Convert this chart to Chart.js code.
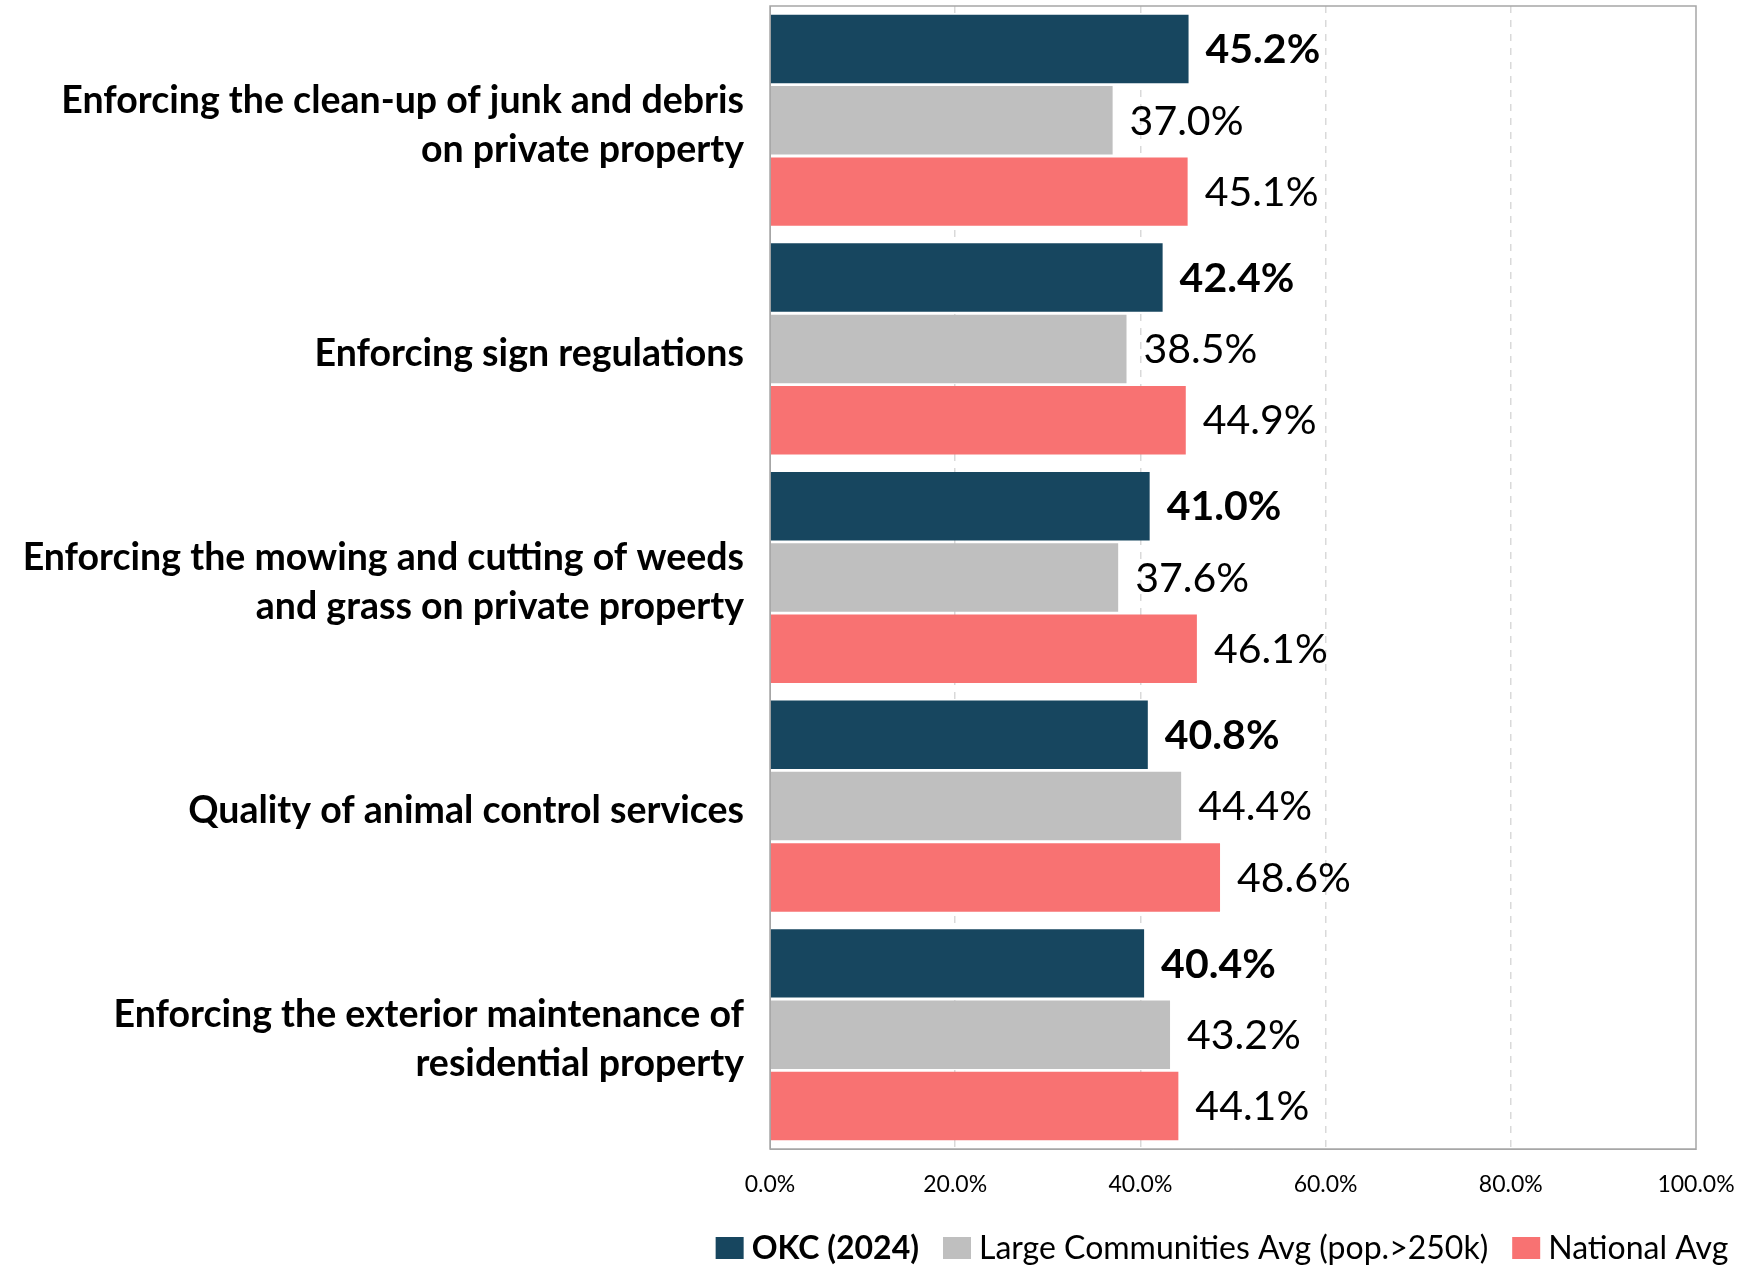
<!DOCTYPE html>
<html>
<head>
<meta charset="utf-8">
<script src="https://cdn.jsdelivr.net/npm/chart.js@4"></script>
<style>
  html, body { margin: 0; padding: 0; background: #fff; }
  #wrap { width: 1758px; height: 1266px; }
</style>
</head>
<body>
<div id="wrap"><canvas id="chart" width="1758" height="1266"></canvas></div>
<script>
// categories (multi-line labels as wrapped in the original)
const categories = [
  ['Enforcing the clean-up of junk and debris', 'on private property'],
  'Enforcing sign regulations',
  ['Enforcing the mowing and cutting of weeds', 'and grass on private property'],
  'Quality of animal control services',
  ['Enforcing the exterior maintenance of', 'residential property']
];

const seriesNames = ['OKC (2024)', 'Large Communities Avg (pop.>250k)', 'National Avg'];
const okc      = [45.2, 42.4, 41.0, 40.8, 40.4];
const large    = [37.0, 38.5, 37.6, 44.4, 43.2];
const national = [45.1, 44.9, 46.1, 48.6, 44.1];
const colors   = ['#17465F', '#BFBFBF', '#F87272'];

const xTicks = [0, 20, 40, 60, 80, 100];

const FONT = 'Lato, "Open Sans", sans-serif';

// frame around the plot area
const framePlugin = {
  id: 'frame',
  afterDraw(chart) {
    const a = chart.chartArea, c = chart.ctx;
    c.save();
    c.strokeStyle = '#a6a6a6';
    c.lineWidth = 1.5;
    c.strokeRect(a.left, a.top, a.right - a.left, a.bottom - a.top);
    c.restore();
  }
};

// value labels at the end of each bar
const valueLabels = {
  id: 'valueLabels',
  afterDatasetsDraw(chart) {
    const c = chart.ctx;
    c.save();
    c.fillStyle = '#000';
    c.textBaseline = 'middle';
    c.textAlign = 'left';
    chart.data.datasets.forEach((ds, i) => {
      const meta = chart.getDatasetMeta(i);
      c.font = (i === 0 ? 'bold ' : '') + '41px ' + FONT;
      meta.data.forEach((bar, j) => {
        c.fillText(ds.data[j].toFixed(1) + '%', bar.x + 17, bar.y + 1);
      });
    });
    c.restore();
  }
};

// custom legend (first entry bold)
const legendPlugin = {
  id: 'customLegend',
  afterDraw(chart) {
    const c = chart.ctx;
    const box = 28, gapBox = 8, gapItem = 24;
    const y = 1248, cx = 1222;
    c.save();
    const fonts = chart.data.datasets.map((ds, i) => (i === 0 ? 'bold ' : '') + '32px ' + FONT);
    let total = 0;
    const widths = chart.data.datasets.map((ds, i) => {
      c.font = fonts[i];
      const w = c.measureText(ds.label).width;
      total += box + gapBox + w;
      return w;
    });
    total += gapItem * (widths.length - 1);
    let x = cx - total / 2;
    c.textBaseline = 'middle';
    c.textAlign = 'left';
    chart.data.datasets.forEach((ds, i) => {
      c.fillStyle = ds.backgroundColor;
      c.fillRect(x, y - 11, box, 22);
      x += box + gapBox;
      c.fillStyle = '#000';
      c.font = fonts[i];
      c.fillText(ds.label, x, y + 1);
      x += widths[i] + gapItem;
    });
    c.restore();
  }
};

new Chart(document.getElementById('chart'), {
  type: 'bar',
  data: {
    labels: categories,
    datasets: [
      { label: seriesNames[0], data: okc,      backgroundColor: colors[0] },
      { label: seriesNames[1], data: large,    backgroundColor: colors[1] },
      { label: seriesNames[2], data: national, backgroundColor: colors[2] }
    ]
  },
  options: {
    indexAxis: 'y',
    responsive: false,
    animation: false,
    categoryPercentage: 0.936,
    barPercentage: 0.96,
    layout: { padding: { top: 6, right: 62, left: 0, bottom: 0 } },
    scales: {
      x: {
        min: 0,
        max: 100,
        afterBuildTicks(scale) { scale.ticks = xTicks.map(v => ({ value: v })); },
        afterFit(scale) {
          scale.height = 117;
          scale.paddingLeft = 0;
          scale.paddingRight = 0;
        },
        grid: {
          drawTicks: false,
          color: ctx => (ctx.tick && (ctx.tick.value === 0 || ctx.tick.value === 100)) ? 'rgba(0,0,0,0)' : '#d9d9d9',
          lineWidth: 1.5
        },
        border: { display: true, color: '#a6a6a6', dash: [7, 7] },
        ticks: {
          padding: 22,
          color: '#000',
          font: { family: FONT, size: 23 },
          callback: v => v.toFixed(1) + '%'
        }
      },
      y: {
        afterFit(scale) {
          scale.width = 770;
          scale.paddingTop = 0;
          scale.paddingBottom = 0;
        },
        grid: { display: false, drawTicks: false },
        border: { display: true, color: '#a6a6a6' },
        ticks: {
          padding: 26,
          labelOffset: 5,
          color: '#000',
          font: { family: FONT, size: 37.5, weight: 'bold', lineHeight: 1.31 }
        }
      }
    },
    plugins: {
      legend: { display: false },
      tooltip: { enabled: false }
    }
  },
  plugins: [framePlugin, valueLabels, legendPlugin]
});
</script>
</body>
</html>
